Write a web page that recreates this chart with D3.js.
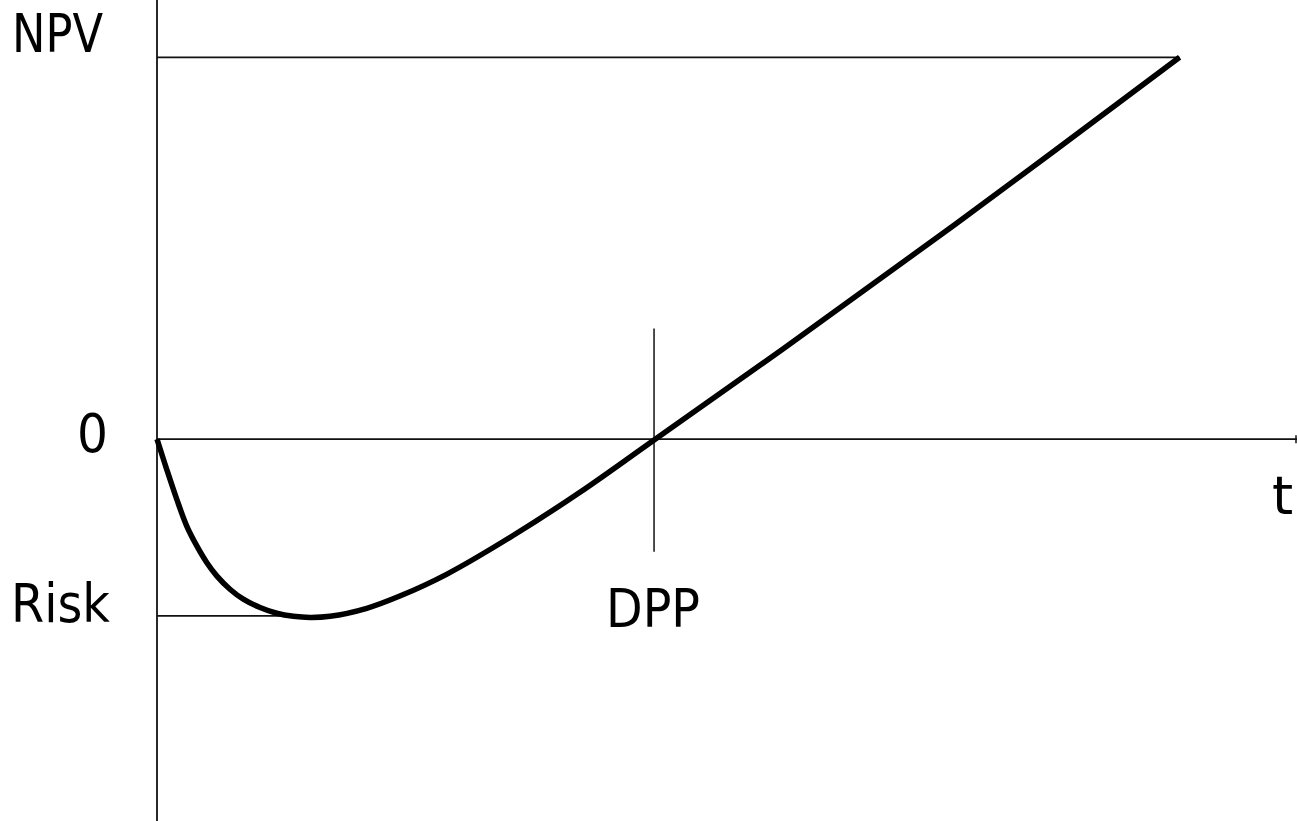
<!DOCTYPE html>
<html>
<head>
<meta charset="utf-8">
<script src="https://cdn.jsdelivr.net/npm/d3@7"></script>
<style>
    html, body { margin: 0; padding: 0; background: #fff; overflow: hidden; }
    text { font-family: "DejaVu Sans", Verdana, sans-serif; font-size: 54px; fill: #000; }
</style>
</head>
<body>
<div id="chart"></div>
<script>
// ---------- Data ----------
const times = [0, 0.085, 0.173, 0.26, 0.348, 0.436, 0.524, 0.64, 0.757, 0.904, 1.05, 1.196, 1.342, 1.518,
               1.84, 2.13, 2.54, 3.12, 3.71, 4.37, 5.5, 7, 8.97];
const npv   = [0, -7.9, -15.7, -22.7, -27.9, -32.3, -35.8, -39.3, -41.9, -44.1, -45.6, -46.4, -46.7, -46.4,
               -44.3, -41.1, -35.4, -25.3, -13.9, 0, 23.8, 56.2, 100];
const npvLevel = 100;    // horizontal NPV guide
const riskLevel = -46.3; // horizontal Risk guide
const dppTime = 4.36;    // discounted payback period
const dppSpan = [-29.5, 29];
const labels = { npv: "NPV", zero: "0", risk: "Risk", dpp: "DPP", t: "t" };

// ---------- Dimensions ----------
const width = 1297, height = 821;

const svg = d3.select("#chart").append("svg")
    .attr("width", width)
    .attr("height", height);

// ---------- Scales ----------
const x = d3.scaleLinear().domain([0, 10]).range([157, 1297]);
const y = d3.scaleLinear().domain([-100, 115]).range([height, 0]);

const thin = { stroke: "#111", width: 1.8 };

function hline(v, t0, t1) {
    svg.append("line")
        .attr("x1", x(t0)).attr("x2", x(t1))
        .attr("y1", y(v)).attr("y2", y(v))
        .attr("stroke", thin.stroke).attr("stroke-width", thin.width);
}

// ---------- Axes ----------
svg.append("line")
    .attr("x1", x(0)).attr("x2", x(0))
    .attr("y1", y.range()[1]).attr("y2", y.range()[0])
    .attr("stroke", thin.stroke).attr("stroke-width", thin.width);

hline(0, 0, x.domain()[1]);

// small end tick on the time axis
svg.append("line")
    .attr("x1", x(10) - 1).attr("x2", x(10) - 1)
    .attr("y1", y(0) - 4).attr("y2", y(0) + 4)
    .attr("stroke", thin.stroke).attr("stroke-width", 1.5);

// ---------- Guides ----------
hline(npvLevel, 0, times[times.length - 1]);
hline(riskLevel, 0, 1.3);

svg.append("line")
    .attr("x1", x(dppTime)).attr("x2", x(dppTime))
    .attr("y1", y(dppSpan[1])).attr("y2", y(dppSpan[0]))
    .attr("stroke", thin.stroke).attr("stroke-width", 1.5);

// ---------- NPV curve ----------
const line = d3.line()
    .x((d, i) => x(times[i]))
    .y(d => y(d))
    .curve(d3.curveCatmullRom.alpha(0.5));

svg.append("path")
    .datum(npv)
    .attr("fill", "none")
    .attr("stroke", "#000")
    .attr("stroke-width", 5.5)
    .attr("d", line);

// ---------- Labels ----------
function label(txt, px, py, len, anchor) {
    const t = svg.append("text")
        .attr("x", px).attr("y", py)
        .attr("text-anchor", anchor || "start")
        .text(txt);
    if (len) t.attr("textLength", len).attr("lengthAdjust", "spacingAndGlyphs");
    return t;
}

label(labels.npv, 12, y(npvLevel) - 5, 91);
label(labels.zero, x(0) - 49, y(0) + 13, 31, "end");
label(labels.risk, 11, y(riskLevel) + 6, 99);
label(labels.dpp, x(dppTime) - 48, y(dppSpan[0]) + 75, 94);
label(labels.t, 1272, y(0) + 75);
</script>
</body>
</html>
